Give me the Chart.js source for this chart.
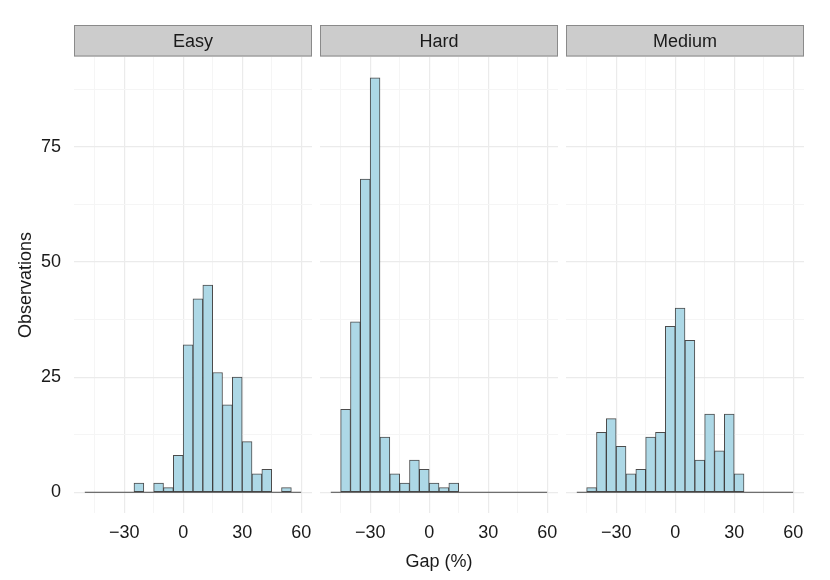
<!DOCTYPE html>
<html lang="en">
<head>
    <meta charset="UTF-8">
    <title>Gap histogram by difficulty</title>
    <script src="https://cdn.jsdelivr.net/npm/chart.js"></script>
    <style>
        html, body { margin: 0; padding: 0; background: #fff; }
        #wrap { position: relative; width: 830px; height: 580px; overflow: hidden; }
        #wrap canvas { position: absolute; top: 24px; }
    </style>
</head>
<body>
<div id="wrap">
    <canvas id="easy" width="312" height="556" style="left:0px;width:312px;height:556px"></canvas>
    <canvas id="hard" width="238" height="556" style="left:320px;width:238px;height:556px"></canvas>
    <canvas id="medium" width="238" height="556" style="left:566px;width:238px;height:556px"></canvas>
</div>

<script>
    // bin centres (width 5, -50 .. 60)
    const binCenters = [-47.5, -42.5, -37.5, -32.5, -27.5, -22.5, -17.5, -12.5, -7.5, -2.5,
                        2.5, 7.5, 12.5, 17.5, 22.5, 27.5, 32.5, 37.5, 42.5, 47.5, 52.5, 57.5];
    const binRange = [-50, 60];

    // observations per bin
    const easyCounts   = [0, 0, 0, 0, 0, 2, 0, 2, 1, 8, 32, 42, 45, 26, 19, 25, 11, 4, 5, 0, 1, 0];
    const hardCounts   = [0, 18, 37, 68, 90, 12, 4, 2, 7, 5, 2, 1, 2, 0, 0, 0, 0, 0, 0, 0, 0, 0];
    const mediumCounts = [0, 1, 13, 16, 10, 4, 5, 12, 13, 36, 40, 33, 7, 17, 9, 17, 4, 0, 0, 0, 0, 0];

    // ticks
    const xMajor = [-30, 0, 30, 60];
    const xMinor = [-45, -15, 15, 45];
    const yMajor = [0, 25, 50, 75];
    const yMinor = [12.5, 37.5, 62.5, 87.5];

    Chart.defaults.font.family = "'Liberation Sans', Arial, sans-serif";
    Chart.defaults.color = '#1a1a1a';

    // grey facet strip above the plot area
    const stripPlugin = {
        id: 'strip',
        afterDraw(chart, args, opts) {
            const {ctx, chartArea} = chart;
            const h = 31.5;
            const y = chartArea.top - h - 0.5;
            ctx.save();
            ctx.fillStyle = '#cccccc';
            ctx.fillRect(chartArea.left, y, chartArea.right - chartArea.left, h);
            ctx.strokeStyle = '#8a8a8a';
            ctx.lineWidth = 1;
            ctx.strokeRect(chartArea.left + 0.5, y + 0.5, chartArea.right - chartArea.left - 1, h - 1);
            ctx.fillStyle = '#1a1a1a';
            ctx.font = "18px 'Liberation Sans', Arial, sans-serif";
            ctx.textAlign = 'center';
            ctx.textBaseline = 'middle';
            ctx.fillText(opts.text, (chartArea.left + chartArea.right) / 2, y + h / 2 + 1);
            ctx.restore();
        }
    };

    function sortedTicks(a, b) {
        return a.concat(b).sort((p, q) => p - q).map(v => ({value: v}));
    }

    const isMajor = (list, c) => !!(c.tick && list.includes(c.tick.value));

    function makePanel(id, name, counts, first, middle) {
        const ctx = document.getElementById(id).getContext('2d');
        return new Chart(ctx, {
            type: 'bar',
            data: {
                datasets: [
                    {
                        type: 'bar',
                        data: binCenters.map((c, i) => ({x: c, y: counts[i]})),
                        backgroundColor: '#add8e6',
                        borderColor: 'rgba(45,45,45,0.85)',
                        borderWidth: 1,
                        borderSkipped: false,
                        barPercentage: 1,
                        categoryPercentage: 1,
                        order: 1
                    },
                    {
                        // zero-count bins show as a flat outline
                        type: 'line',
                        data: binRange.map(v => ({x: v, y: 0})),
                        borderColor: 'rgba(45,45,45,0.85)',
                        borderWidth: 1,
                        pointRadius: 0,
                        order: 2
                    }
                ]
            },
            options: {
                responsive: false,
                animation: false,
                layout: {padding: {top: 33, left: 0, right: 0, bottom: 0}},
                plugins: {
                    legend: {display: false},
                    tooltip: {enabled: false},
                    strip: {text: name}
                },
                scales: {
                    x: {
                        type: 'linear',
                        min: -55.5,
                        max: 65.5,
                        offset: false,
                        afterBuildTicks: s => { s.ticks = sortedTicks(xMajor, xMinor); },
                        afterFit: s => { s.height = 67; s.paddingLeft = 0; s.paddingRight = 0; },
                        border: {display: false, color: '#ebebeb'},
                        grid: {
                            offset: false,
                            drawTicks: false,
                            color: c => isMajor(xMajor, c) ? '#ebebeb' : '#f5f5f5',
                            lineWidth: c => isMajor(xMajor, c) ? 1.2 : 1
                        },
                        ticks: {
                            autoSkip: false,
                            maxRotation: 0,
                            padding: 9,
                            font: {size: 18},
                            color: '#1a1a1a',
                            callback: v => xMajor.includes(v) ? (v < 0 ? '\u2212' + Math.abs(v) : String(v)) : ''
                        },
                        title: {
                            display: middle,
                            text: 'Gap (%)',
                            font: {size: 18},
                            color: '#1a1a1a',
                            padding: {top: 0, bottom: 7}
                        }
                    },
                    y: {
                        min: -4.5,
                        max: 94.5,
                        afterBuildTicks: s => { s.ticks = sortedTicks(yMajor, yMinor); },
                        afterFit: s => { s.width = first ? 74 : 0; s.paddingTop = 0; s.paddingBottom = 0; },
                        border: {display: false, color: '#ebebeb'},
                        grid: {
                            drawTicks: false,
                            color: c => isMajor(yMajor, c) ? '#ebebeb' : '#f5f5f5',
                            lineWidth: c => isMajor(yMajor, c) ? 1.2 : 1
                        },
                        ticks: {
                            display: first,
                            padding: 13,
                            font: {size: 18},
                            color: '#1a1a1a',
                            callback: v => yMajor.includes(v) ? String(v) : ''
                        },
                        title: {
                            display: first,
                            text: 'Observations',
                            font: {size: 18},
                            color: '#1a1a1a',
                            padding: {top: 15, bottom: 0}
                        }
                    }
                }
            },
            plugins: [stripPlugin]
        });
    }

    makePanel('easy', 'Easy', easyCounts, true, false);
    makePanel('hard', 'Hard', hardCounts, false, true);
    makePanel('medium', 'Medium', mediumCounts, false, false);
</script>
</body>
</html>
